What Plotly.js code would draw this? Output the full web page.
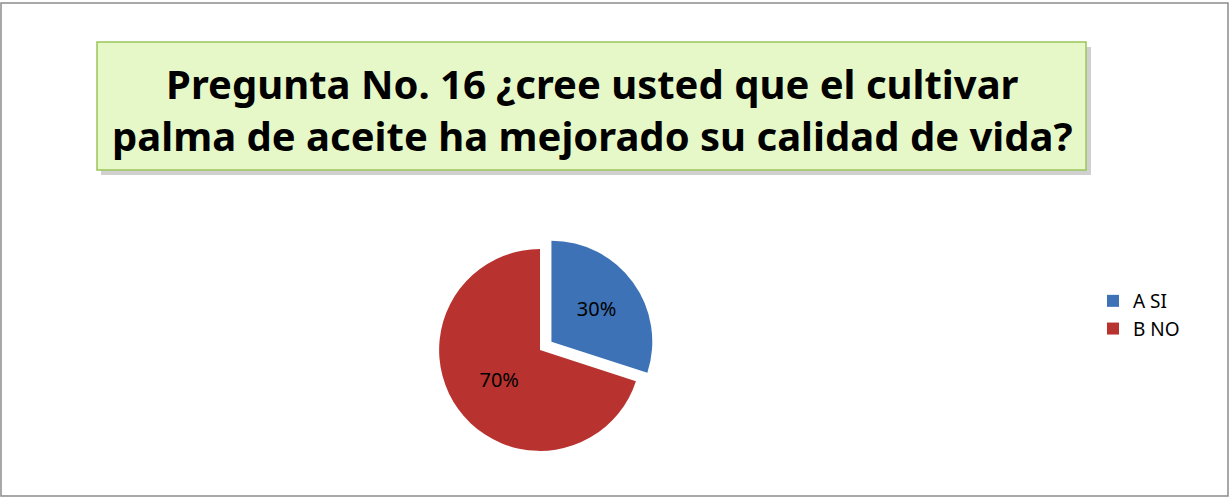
<!DOCTYPE html>
<html><head><meta charset="utf-8">
<script src="https://cdn.plot.ly/plotly-3.0.1.min.js"></script>
<style>html,body{margin:0;padding:0;background:#fff}#c{width:1229px;height:497px}</style>
</head><body><div id="c"></div>
<script>
const categories = ['A SI', 'B NO'];
const values = [30, 70];
const colors = ['#3d72b6', '#b8332f'];
const titleText = 'Pregunta No. 16 ¿cree usted que el cultivar<br>palma de aceite ha mejorado su calidad de vida?';

const W = 1229, H = 497;
const px = x => x / W, py = y => 1 - y / H;

const data = [{
  type: 'pie',
  labels: categories,
  values: values,
  sort: false,
  direction: 'clockwise',
  rotation: 0,
  pull: [0.14, 0],
  marker: {colors: colors, line: {color: '#ffffff', width: 0}},
  textinfo: 'percent',
  texttemplate: '%{percent:.0%}',
  textposition: 'inside',
  insidetextorientation: 'horizontal',
  textfont: {family: 'Noto Sans, sans-serif', size: 20, color: '#000000'},
  hoverinfo: 'label+percent',
  domain: {x: [px(390), px(690)], y: [py(465), py(235)]}
}];

const layout = {
  width: W, height: H,
  margin: {l: 0, r: 0, t: 0, b: 0},
  paper_bgcolor: '#ffffff',
  showlegend: true,
  legend: {
    x: px(1093), y: py(282), xanchor: 'left', yanchor: 'top',
    font: {family: 'Noto Sans, sans-serif', size: 19, color: '#000000'},
    itemwidth: 30, tracegroupgap: 0
  },
  shapes: [
    {type: 'rect', xref: 'paper', yref: 'paper', x0: px(1), x1: px(1228), y0: py(496), y1: py(3),
     line: {color: '#8c8c8c', width: 1.5}, fillcolor: 'rgba(0,0,0,0)'},
    {type: 'rect', xref: 'paper', yref: 'paper', x0: px(101), x1: px(1091), y0: py(175), y1: py(47),
     line: {width: 0}, fillcolor: 'rgba(120,120,120,0.35)', layer: 'below'},
    {type: 'rect', xref: 'paper', yref: 'paper', x0: px(97), x1: px(1086), y0: py(170), y1: py(42),
     line: {color: '#9bc45a', width: 1.5}, fillcolor: '#e6f8c8', layer: 'below'}
  ],
  annotations: [{
    xref: 'paper', yref: 'paper', x: px(592), y: py(109), xanchor: 'center', yanchor: 'middle',
    text: '<b>' + titleText + '</b>', showarrow: false, align: 'center',
    font: {family: 'Noto Sans, sans-serif', size: 40, color: '#000000'}
  }]
};

Plotly.newPlot('c', data, layout, {displayModeBar: false, staticPlot: true});
</script></body></html>
